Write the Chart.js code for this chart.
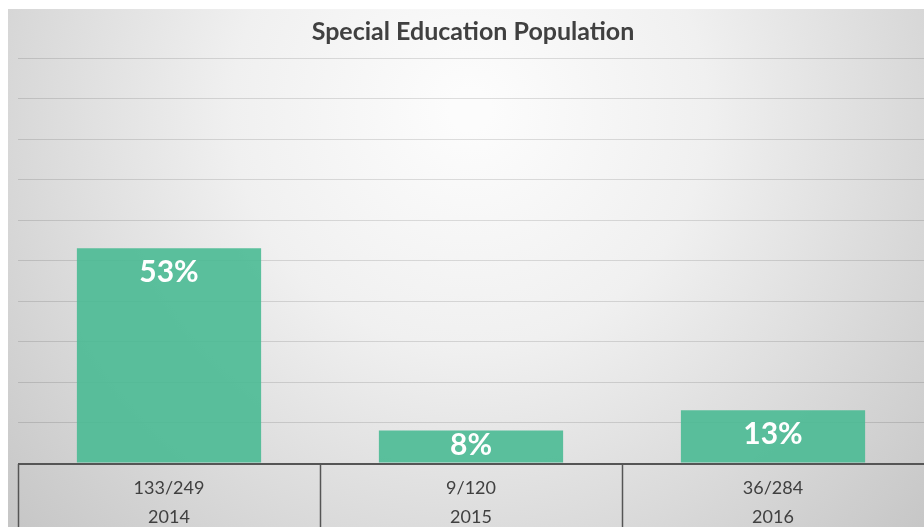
<!DOCTYPE html>
<html>
<head>
<meta charset="utf-8">
<script src="https://cdn.jsdelivr.net/npm/chart.js@4"></script>
<style>
  html, body { margin: 0; padding: 0; background: #fff; }
  #wrap { width: 924px; height: 527px; }
</style>
</head>
<body>
<div id="wrap"><canvas id="chart" width="924" height="527"></canvas></div>
<script>
// chart data
const years = ['2014', '2015', '2016'];
const counts = ['133/249', '9/120', '36/284'];
const percents = [53, 8, 13];

// gray radial backdrop like the slide
const backdrop = {
    id: 'backdrop',
    beforeDraw(chart) {
        const ctx = chart.ctx;
        const w = chart.width, h = chart.height;
        ctx.save();
        ctx.fillStyle = '#fff';
        ctx.fillRect(0, 0, w, h);
        const g = ctx.createRadialGradient(470, 110, 20, 470, 110, 640);
        g.addColorStop(0, '#fcfcfc');
        g.addColorStop(0.35, '#f0f0f0');
        g.addColorStop(1, '#c4c4c4');
        ctx.fillStyle = g;
        ctx.fillRect(8, 9, w - 8, h - 9);
        ctx.restore();
    }
};

// title, percent labels and the table under the bars
const overlay = {
    id: 'overlay',
    afterDraw(chart) {
        const ctx = chart.ctx;
        const area = chart.chartArea;
        const x = chart.scales.x;
        const meta = chart.getDatasetMeta(0);
        ctx.save();

        ctx.fillStyle = '#404040';
        ctx.font = 'bold 25px Lato';
        ctx.textAlign = 'center';
        ctx.textBaseline = 'middle';
        ctx.fillText('Special Education Population', (area.left + area.right) / 2 + 2, 32);

        ctx.fillStyle = '#fff';
        ctx.font = 'bold 30px Lato';
        ctx.textBaseline = 'top';
        meta.data.forEach((bar, i) => {
            const top = Math.min(bar.y + 9, bar.base - 32);
            ctx.fillText(percents[i] + '%', bar.x, top);
        });

        // table lines (the right edge falls just off the page)
        ctx.strokeStyle = '#555';
        ctx.lineWidth = 2;
        ctx.beginPath();
        ctx.moveTo(area.left, area.bottom + 1);
        ctx.lineTo(chart.width, area.bottom + 1);
        ctx.stroke();
        const step = (area.right - area.left) / years.length;
        ctx.lineWidth = 1.5;
        for (let i = 0; i < years.length; i++) {
            const lx = Math.round(area.left + step * i) + 0.5;
            ctx.beginPath();
            ctx.moveTo(lx, area.bottom + 1);
            ctx.lineTo(lx, chart.height);
            ctx.stroke();
        }

        ctx.fillStyle = '#404040';
        ctx.font = '18px Lato';
        ctx.textBaseline = 'middle';
        years.forEach((yr, i) => {
            const cx = x.getPixelForValue(i);
            ctx.fillText(counts[i], cx, area.bottom + 25);
            ctx.fillText(yr, cx, area.bottom + 54);
        });
        ctx.restore();
    }
};

new Chart(document.getElementById('chart').getContext('2d'), {
    type: 'bar',
    data: {
        labels: years,
        datasets: [{
            data: percents,
            backgroundColor: 'rgba(74,186,148,0.9)',
            borderWidth: 0,
            barPercentage: 0.61,
            categoryPercentage: 1
        }]
    },
    options: {
        responsive: false,
        animation: false,
        layout: { padding: { left: 18, right: 0, top: 58, bottom: 56 } },
        plugins: {
            legend: { display: false },
            title: { display: false },
            tooltip: { enabled: false }
        },
        scales: {
            x: {
                grid: { display: false },
                border: { display: false },
                ticks: { display: false }
            },
            y: {
                min: 0,
                max: 100,
                ticks: { display: false, stepSize: 10 },
                grid: { color: 'rgba(0,0,0,0.12)', drawTicks: false },
                border: { display: false }
            }
        }
    },
    plugins: [backdrop, overlay]
});
</script>
</body>
</html>
